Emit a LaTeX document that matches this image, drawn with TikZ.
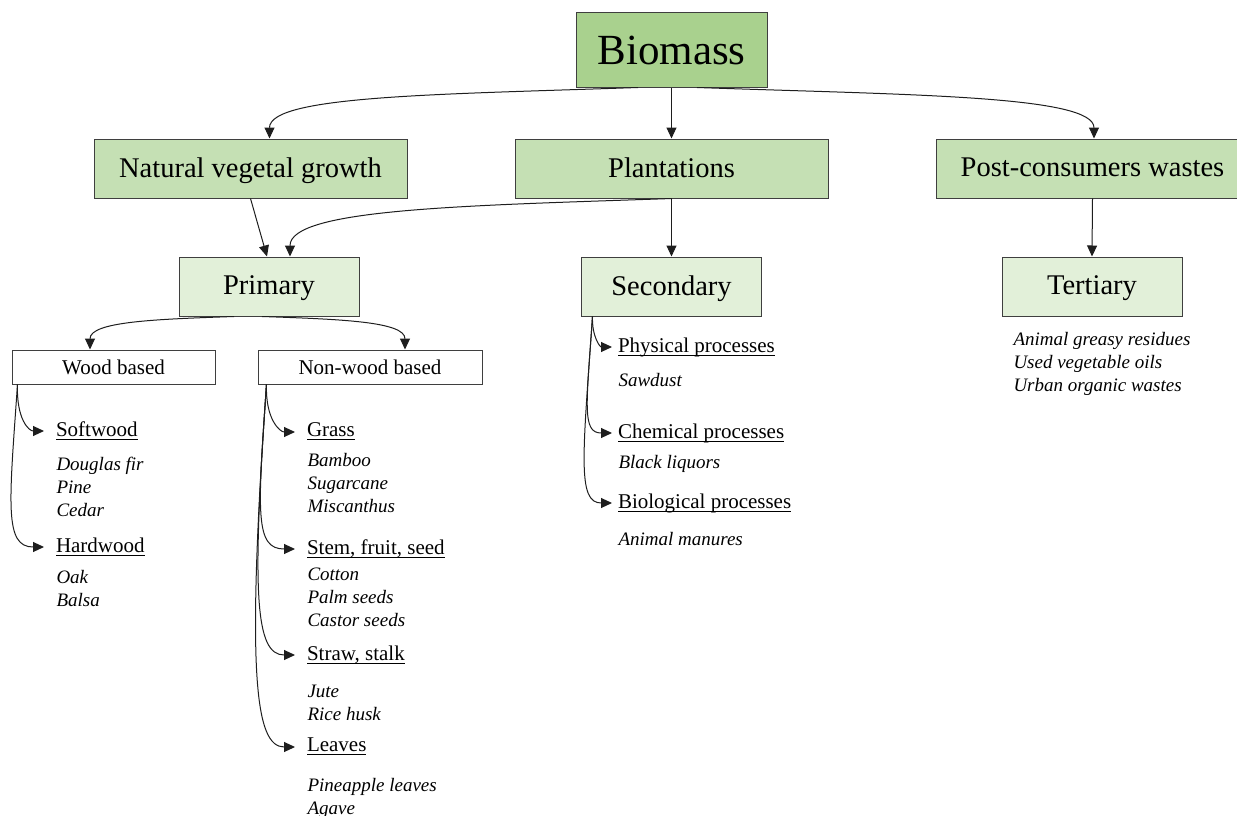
\documentclass[tikz,border=0pt]{standalone}
\usepackage{fontspec}
\setmainfont{Liberation Serif}
\usepackage{amsmath}
\usetikzlibrary{arrows.meta,positioning}

\definecolor{greendark}{HTML}{A9D18E}
\definecolor{greenmid}{HTML}{C5E0B4}
\definecolor{greenlight}{HTML}{E2F0D9}
\definecolor{edgegray}{HTML}{3F3F3F}
\definecolor{linkgray}{HTML}{1E1E1E}

\newcommand{\headline}[1]{\underline{\smash[b]{#1}}}

\tikzset{
  topbox/.style={draw=edgegray,fill=greendark,line width=1pt,minimum width=191pt,minimum height=74pt,font=\fontsize{43}{50}\selectfont},
  srcbox/.style={draw=edgegray,fill=greenmid,line width=1pt,minimum width=313pt,minimum height=59pt,text depth=2pt,font=\fontsize{28.5}{34}\selectfont},
  classbox/.style={draw=edgegray,fill=greenlight,line width=1pt,minimum width=180pt,minimum height=59pt,text depth=2pt,font=\fontsize{28.5}{34}\selectfont},
  basebox/.style={draw=edgegray,fill=white,line width=1pt,minimum height=34pt,font=\fontsize{21}{25}\selectfont},
  head/.style={anchor=west,inner sep=0pt,outer xsep=12pt,font=\fontsize{21}{25}\selectfont},
  items/.style={anchor=base west,inner sep=0pt,align=left,font=\fontsize{19}{23}\selectfont\itshape},
}

\begin{document}
\begin{tikzpicture}[x=1pt,y=-1pt,->,>={Triangle[length=11pt,width=10pt]},line width=1pt,draw=linkgray]

\useasboundingbox (0,0) rectangle (1237,816);

% top levels
\node[topbox](biomass) at (671.5,50){Biomass};
\node[srcbox](plant)[below=51pt of biomass]{Plantations};
\node[srcbox](natural)[left=107pt of plant]{Natural vegetal growth};
\node[srcbox](post)[right=107pt of plant]{Post-consumers wastes};
\node[classbox](primary) at (269,286.5){Primary};
\node[classbox](secondary) at (671.5,286.5){Secondary};
\node[classbox](tertiary) at (1092,286.5){Tertiary};
\node[basebox,minimum width=203pt](wood) at (113.5,367){Wood based};
\node[basebox,minimum width=224pt](nonwood) at (370,367){Non-wood based};

% primary branches (items: base = last line)
\node[head](soft) at (44,431){\headline{Softwood}};
\node[items] at (56,516){Douglas fir\\Pine\\Cedar};
\node[head](hard) at (44,547){\headline{Hardwood}};
\node[items] at (56,606){Oak\\Balsa};
\node[head](grass) at (295,432){\headline{Grass}};
\node[items] at (307,512){Bamboo\\Sugarcane\\Miscanthus};
\node[head](stem) at (295,549){\headline{Stem, fruit, seed}};
\node[items] at (307,626){Cotton\\Palm seeds\\Castor seeds};
\node[head](straw) at (295,655){\headline{Straw, stalk}};
\node[items] at (307,720){Jute\\Rice husk};
\node[head](leaves) at (295,747){\headline{Leaves}};
\node[items] at (307,814){Pineapple leaves\\Agave};

% secondary branches
\node[head,outer xsep=6pt](phys) at (612,347){\headline{Physical processes}};
\node[items] at (618,386){Sawdust};
\node[head,outer xsep=6pt](chem) at (612,433){\headline{Chemical processes}};
\node[items] at (618,468){Black liquors};
\node[head,outer xsep=6pt](bio) at (612,503){\headline{Biological processes}};
\node[items] at (618,545){Animal manures};

% tertiary
\node[items](tertitems) at (1013,391){Animal greasy residues\\Used vegetable oils\\Urban organic wastes};

\path([xshift=-33.5pt]biomass.south)edge[out=182,in=90,out distance=200pt,in distance=43pt]([xshift=19pt]natural.north)
	(biomass.south)edge(plant.north)
	([xshift=25.5pt]biomass.south)edge[out=-2,in=90,out distance=214pt,in distance=43pt]([xshift=1.5pt]post.north)
	(natural.south)edge([xshift=-2pt]primary.north)
	([xshift=0.5pt]plant.south)edge[out=182,in=90,out distance=205pt,in distance=48pt]([xshift=21pt]primary.north)
	(plant.south)edge(secondary.north)
	(post.south)edge(tertiary.north)
	([xshift=-35pt]primary.south)edge[out=182,in=90,out distance=78pt,in distance=28pt]([xshift=-23.5pt]wood.north)
	([xshift=-7pt]primary.south)edge[out=-2,in=90,out distance=78pt,in distance=28pt]([xshift=35pt]nonwood.north)
	([xshift=6pt]wood.south west)edge[out=268,in=180,out distance=35pt,in distance=15pt](soft.west)
	([xshift=6pt]wood.south west)edge[out=266,in=180,out distance=120pt,in distance=40pt](hard.west)
	([xshift=9pt]nonwood.south west)edge[out=268,in=180,out distance=35pt,in distance=15pt](grass.west)
	([xshift=9pt]nonwood.south west)edge[out=266,in=180,out distance=130pt,in distance=40pt](stem.west)
	([xshift=9pt]nonwood.south west)edge[out=266,in=180,out distance=210pt,in distance=40pt](straw.west)
	([xshift=9pt]nonwood.south west)edge[out=266,in=180,out distance=290pt,in distance=40pt](leaves.west)
	([xshift=11.5pt]secondary.south west)edge[out=268,in=180,out distance=20pt,in distance=12pt](phys.west)
	([xshift=11.5pt]secondary.south west)edge[out=266,in=180,out distance=90pt,in distance=30pt](chem.west)
	([xshift=11.5pt]secondary.south west)edge[out=266,in=180,out distance=140pt,in distance=35pt](bio.west);

\end{tikzpicture}
\end{document}
